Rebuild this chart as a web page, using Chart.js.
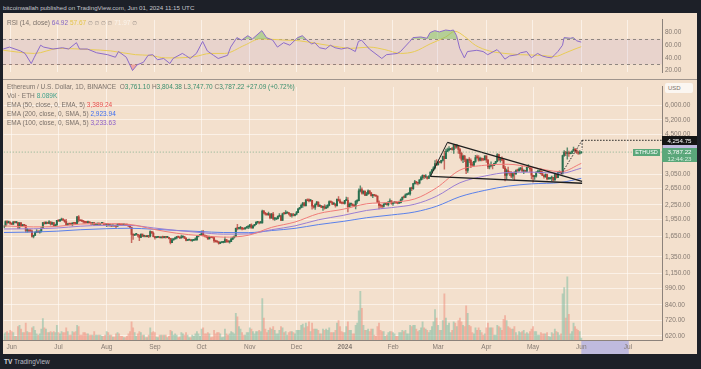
<!DOCTYPE html>
<html>
<head>
<meta charset="utf-8">
<script src="https://cdn.jsdelivr.net/npm/chart.js@4.4.1/dist/chart.umd.min.js"></script>
<style>
html,body{margin:0;padding:0;background:#1d2028;}
#wrap{position:relative;width:701px;height:369px;overflow:hidden;background:#1d2028;font-family:"Liberation Sans",Arial,sans-serif;}
.panel{position:absolute;left:3px;width:694px;background:#f3e0cd;}
#rsiBox{top:13px;height:66px;}
#mainBox{top:80px;height:274px;}
#sep{position:absolute;left:3px;top:79px;width:694px;height:1px;background:#a0958d;}
canvas{display:block;}
.t{position:absolute;white-space:nowrap;font-size:6.5px;line-height:8px;color:#7b716a;}
.g{color:#3b8f6e;}
.ic{color:#9a908a;font-family:"DejaVu Sans",sans-serif;font-size:5.5px;}
.lbl{position:absolute;white-space:nowrap;font-size:6.2px;line-height:8px;text-align:center;color:#fff;}
</style>
</head>
<body>
<div id="wrap">
  <div class="t" style="left:3px;top:4px;color:#c5c7cd;font-size:6.2px;">bitcoinwallah published on TradingView.com, Jun 01, 2024 11:15 UTC</div>
  <div class="panel" id="rsiBox"><canvas id="rsi" width="694" height="66"></canvas></div>
  <div id="sep"></div>
  <div class="panel" id="mainBox"><canvas id="main" width="694" height="274"></canvas></div>

  <div class="t" style="left:7px;top:19px;">RSI (14, close) <span style="color:#8466c4">64.92</span> <span style="color:#e3c44a">57.67</span> <span class="ic">&#8709; &#8709; &#8709; &#8709;</span> <span style="color:#fbf4ec">71.97</span> <span class="ic">&#8709;</span></div>

  <div class="t" style="left:7px;top:83px;">Ethereum / U.S. Dollar, 1D, BINANCE&nbsp; O<span class="g">3,761.10</span> H<span class="g">3,804.38</span> L<span class="g">3,747.70</span> C<span class="g">3,787.22</span> <span class="g">+27.09 (+0.72%)</span></div>
  <div class="t" style="left:7px;top:92px;">Vol · ETH <span style="color:#3fa28c">8.089K</span></div>
  <div class="t" style="left:7px;top:101px;">EMA (50, close, 0, EMA, 5) <span style="color:#e8504f">3,389.24</span></div>
  <div class="t" style="left:7px;top:110px;">EMA (200, close, 0, SMA, 5) <span style="color:#3d6ef0">2,923.94</span></div>
  <div class="t" style="left:7px;top:119px;">EMA (100, close, 0, SMA, 5) <span style="color:#8d5fc9">3,233.63</span></div>

  <div class="t" style="left:665px;top:83px;width:28px;height:10px;line-height:10px;background:#fbf6f1;border-radius:2px;font-size:6px;text-indent:3px;">USD</div>

  <div class="lbl" id="tgtLbl" style="left:662px;width:35px;height:9px;line-height:9px;background:#151515;">4,254.75</div>
  <div class="lbl" id="lastLbl" style="left:662px;width:35px;height:14px;line-height:7px;background:#5aa77a;">3,787.22<br><span style="color:#d6eede">12:44:23</span></div>
  <div class="lbl" id="symLbl" style="left:633px;width:27px;height:7px;line-height:7px;background:#5aa77a;font-size:5.5px;">ETHUSD</div>

  <div class="t" style="left:4px;top:358px;color:#b9bcc4;font-size:6.5px;"><b style="color:#d6d8de">TV</b> TradingView</div>
</div>

<script>
// ---------- DATA ----------
const firstDay = -5;            // May 27 2023, days counted from Jun 1 2023
const firstOpen = 1805;
const closes = [
1830,1910,1890,1900,1873,
1862,1907,1890,1891,1811,1888,1833,1848,1840,1752,1752,1742,1740,1650,1667,1718,1727,1720,1735,1790,1889,1872,1895,1875,1903,1860,1890,1828,1850,1934,
1924,1937,1956,1938,1910,1850,1869,1864,1860,1880,1878,1871,2002,1934,1925,1921,1910,1896,1890,1893,1891,1864,1890,1856,1858,1870,1859,1875,1882,1863,1857,
1865,1836,1836,1830,1836,1828,1825,1856,1853,1850,1849,1852,1845,1844,1827,1806,1684,1669,1682,1682,1668,1633,1687,1653,1654,1645,1657,1652,1729,1706,1645,
1629,1636,1640,1628,1633,1630,1644,1635,1636,1617,1552,1594,1608,1627,1642,1637,1626,1640,1645,1622,1585,1593,1593,1583,1589,1594,1595,1653,1665,1671,
1734,1664,1656,1648,1611,1646,1633,1632,1579,1567,1565,1540,1553,1556,1557,1600,1565,1564,1567,1606,1628,1650,1787,1784,1788,1801,1777,1775,1795,1811,1815,
1847,1797,1833,1857,1894,1899,1885,1886,2120,2077,2054,2045,2055,1980,2056,1960,1960,1964,2013,2022,1933,2063,2062,2081,2084,2063,2027,2048,2027,2052,
2087,2165,2193,2242,2293,2232,2358,2344,2341,2353,2224,2202,2260,2316,2220,2227,2196,2217,2177,2201,2240,2326,2313,2267,2272,2231,2378,2345,2298,2292,2281,
2352,2355,2209,2268,2268,2240,2221,2330,2345,2584,2618,2524,2576,2472,2510,2587,2528,2467,2490,2470,2453,2314,2240,2234,2218,2267,2268,2257,2317,2343,2283,
2304,2309,2296,2290,2300,2374,2425,2420,2487,2505,2507,2660,2641,2777,2823,2803,2786,2880,2945,3015,2968,2970,2922,2993,3112,3178,3244,3385,3340,
3432,3421,3488,3631,3553,3817,3869,3892,3918,3877,4067,3987,4005,3884,3739,3523,3644,3520,3160,3516,3491,3334,3328,3455,3590,3587,3499,3562,3510,3508,3647,
3505,3276,3311,3330,3318,3392,3454,3694,3504,3545,3501,3238,3010,3156,3103,3084,2985,3064,3056,3155,3147,3200,3219,3140,3155,3131,3257,3265,3210,3014,
2971,2988,3104,3117,3137,3063,3010,2973,3036,2910,2911,2929,2950,2882,3038,2945,3093,3123,3071,3663,3789,3737,3780,3727,3749,3827,3892,3840,3767,3747,3761.10,
3787.22
];
const highs = [
1840,1925,1930,1918,1905,
1880,1910,1911,1910,1895,1893,1889,1860,1860,1846,1780,1760,1765,1755,1672,1725,1765,1745,1745,1800,1893,1905,1908,1900,1930,1905,1900,1892,1865,1935,
1940,1952,1975,1966,1942,1950,1873,1875,1880,1893,1890,1895,2010,2028,1942,1942,1925,1910,1915,1920,1897,1893,1895,1892,1868,1885,1890,1880,1885,1885,1870,
1875,1875,1848,1845,1840,1840,1835,1870,1870,1858,1856,1856,1855,1856,1850,1832,1808,1695,1690,1690,1684,1676,1690,1688,1670,1656,1665,1660,1745,1731,1725,
1650,1642,1648,1648,1640,1655,1650,1650,1640,1640,1618,1620,1615,1640,1650,1645,1640,1670,1660,1650,1625,1600,1597,1596,1592,1598,1626,1665,1673,1680,
1745,1750,1670,1660,1660,1656,1650,1638,1635,1590,1575,1569,1565,1565,1565,1640,1602,1580,1575,1625,1640,1660,1790,1860,1805,1820,1806,1790,1805,1823,1825,
1860,1868,1835,1860,1910,1910,1900,1915,2136,2135,2090,2060,2095,2065,2070,2090,1985,1970,2020,2065,2030,2078,2090,2130,2090,2090,2070,2070,2070,2055,
2110,2170,2200,2270,2307,2310,2380,2390,2390,2376,2355,2240,2280,2330,2320,2260,2240,2225,2255,2245,2260,2340,2335,2318,2300,2275,2390,2445,2385,2315,2320,
2355,2430,2420,2295,2280,2275,2265,2350,2370,2640,2715,2665,2585,2580,2545,2610,2590,2545,2500,2495,2478,2460,2342,2255,2240,2280,2275,2300,2320,2390,2350,
2310,2325,2320,2310,2335,2390,2435,2460,2510,2515,2540,2665,2685,2785,2865,2835,2805,2885,2985,3030,3020,3035,2975,3000,3115,3195,3285,3485,3520,
3450,3450,3495,3640,3822,3900,3940,3995,3935,3965,4085,4093,4085,4010,3935,3785,3680,3665,3540,3535,3590,3545,3435,3460,3670,3675,3660,3610,3580,3565,3650,
3648,3510,3365,3445,3345,3400,3460,3730,3710,3560,3615,3550,3290,3200,3270,3120,3125,3090,3125,3180,3200,3240,3260,3290,3170,3165,3265,3350,3265,3240,
3020,3015,3125,3170,3170,3220,3130,3025,3060,3050,2950,2955,2990,2955,3040,3045,3120,3145,3135,3680,3840,3815,3950,3825,3800,3830,3975,3930,3885,3828,3845,
3804.38
];
const lows = [
1795,1826,1862,1880,1855,
1850,1855,1885,1882,1780,1780,1820,1826,1830,1720,1720,1725,1730,1636,1626,1660,1714,1715,1705,1720,1785,1860,1866,1870,1870,1845,1855,1818,1820,1830,
1912,1910,1935,1932,1895,1840,1845,1855,1855,1830,1865,1860,1865,1905,1922,1910,1880,1875,1885,1880,1885,1855,1858,1840,1850,1852,1855,1858,1870,1850,1850,
1815,1825,1826,1815,1825,1820,1800,1820,1845,1843,1842,1846,1840,1838,1820,1800,1550,1600,1660,1672,1640,1580,1630,1645,1640,1641,1640,1630,1640,1700,1640,
1605,1626,1630,1624,1620,1620,1625,1620,1630,1610,1532,1550,1590,1605,1610,1630,1615,1620,1630,1615,1577,1580,1588,1578,1570,1582,1590,1590,1641,1660,
1665,1655,1640,1628,1602,1610,1628,1620,1555,1560,1550,1530,1535,1550,1548,1555,1555,1560,1545,1565,1598,1620,1645,1760,1770,1770,1760,1768,1770,1790,1780,
1790,1785,1780,1825,1850,1875,1865,1878,1880,2060,2035,2030,2030,1960,1970,1940,1930,1945,1955,2000,1930,1930,2050,2060,2070,2040,2005,1995,2020,2020,
2040,2085,2150,2185,2195,2220,2225,2340,2320,2335,2160,2180,2150,2250,2210,2210,2190,2130,2160,2170,2185,2230,2300,2255,2260,2200,2225,2335,2285,2275,2270,
2265,2345,2100,2200,2230,2220,2215,2165,2285,2340,2560,2500,2500,2470,2470,2500,2505,2450,2415,2455,2450,2300,2165,2195,2170,2200,2255,2245,2230,2305,2260,
2240,2285,2290,2275,2285,2295,2350,2410,2415,2475,2490,2480,2590,2620,2760,2760,2740,2770,2880,2890,2915,2935,2900,2920,2990,3080,3160,3210,3310,
3335,3400,3395,3460,3200,3550,3800,3830,3880,3860,3735,3930,3940,3740,3570,3470,3410,3450,3060,3100,3410,3250,3300,3300,3420,3560,3460,3470,3475,3485,3505,
3420,3215,3210,3270,3210,3310,3380,3440,3490,3430,3480,3220,2850,2910,3050,3000,2940,2920,2870,3040,3130,3140,3170,3130,3060,3120,3130,3250,3115,2910,
2815,2890,2955,3100,3070,3050,3000,2930,2950,2880,2900,2900,2860,2860,2865,2930,2945,3090,3055,3050,3630,3660,3530,3625,3720,3740,3815,3775,3740,3705,3710,
3747.70
];
const volumes = [
25,30,35,28,40,
35,30,15,15,55,60,45,30,30,70,35,30,30,50,55,40,25,20,25,45,88,50,45,30,30,35,30,35,30,60,
30,25,35,30,30,50,35,20,20,35,30,35,60,55,20,20,30,30,25,25,20,20,20,35,20,20,20,20,15,15,20,
35,30,20,20,12,12,25,30,25,15,15,10,10,15,25,35,75,50,30,15,25,35,30,20,20,10,10,20,50,30,35,
30,12,10,20,20,20,20,20,10,15,40,35,20,25,20,10,12,30,25,20,30,20,10,10,20,15,25,35,25,15,
45,50,25,25,30,25,10,12,40,25,30,30,25,10,12,45,25,20,25,35,30,25,110,95,55,45,30,20,20,30,30,
50,45,35,25,35,35,40,35,170,90,45,30,40,50,45,55,40,25,25,40,55,50,30,35,20,30,35,35,30,25,
40,40,40,60,65,50,70,55,75,35,70,45,45,45,40,25,25,45,40,45,40,50,30,30,30,40,70,80,55,35,30,
30,55,75,40,40,25,25,60,70,120,200,130,60,40,40,45,35,45,45,20,15,55,70,40,35,35,15,20,30,35,35,
30,25,15,15,30,30,40,35,40,25,25,60,55,60,60,45,35,40,50,75,50,45,40,30,40,55,75,125,90,
60,40,40,80,190,90,60,70,30,40,75,70,55,80,90,75,60,55,140,110,60,55,30,25,50,40,50,40,30,20,25,
50,70,50,50,50,20,20,60,55,50,40,85,100,80,55,50,45,45,55,30,20,35,30,35,40,25,30,25,35,45,
55,35,35,20,20,30,25,25,25,30,15,12,30,25,45,35,30,20,25,190,215,90,260,105,25,35,70,55,45,40,35,
8.089
];

// moving averages (day, price)
const emaDays  = [-5,14,29,44,60,76,91,106,121,136,152,167,182,197,213,228,244,259,273,288,304,319,334,353,366];
const ema50    = [1830,1812,1820,1863,1871,1856,1770,1702,1663,1639,1668,1804,1901,2065,2157,2275,2310,2387,2664,3171,3326,3359,3260,3122,3389.24];
const ema100   = [1775,1779,1792,1824,1839,1839,1794,1749,1714,1687,1691,1763,1830,1943,2030,2131,2191,2266,2452,2799,2991,3097,3108,3074,3233.63];
const ema200   = [1715,1722,1737,1762,1779,1788,1771,1750,1731,1714,1712,1748,1786,1853,1913,1983,2038,2099,2221,2440,2597,2709,2769,2809,2923.94];

// RSI panel
const rsiDays = [-5,-1,6,9,13,15,19,21,27,33,37,42,44,49,55,62,67,69,74,78,81,85,88,91,94,98,102,104,110,112,115,119,123,126,130,133,139,141,145,148,152,155,161,164,168,171,175,179,184,187,190,193,195,198,202,205,208,212,216,218,221,223,225,230,238,241,248,250,256,258,263,267,269,272,275,279,282,284,286,288,291,293,299,303,306,312,314,317,320,325,327,331,334,338,341,344,347,349,351,354,355,359,361,363,366];
const rsiVals = [54,57,51,47,31,41,60,57,54,56,54,64,54,54,48,45,41,50,41,20,29,33,44,45,37,39,31,39,47,44,39,47,66,51,44,39,44,57,72,68,75,70,83,72,68,57,64,60,72,75,68,62,64,56,54,60,56,54,56,54,50,66,68,54,39,45,47,50,66,72,73,71,80,83,81,84,83,84,75,55,40,50,52,50,45,53,48,38,43,45,48,50,40,47,43,41,40,45,50,60,72,71,72,67,64.92];
const rsiMaDays = [-5,15,31,51,64,80,89,99,108,118,128,137,150,160,176,185,198,211,218,230,240,250,259,269,279,285,291,298,307,317,327,340,349,356,362,366];
const rsiMaVals = [52,47,55,53,51,45,44,40,40,42,47,47,60,70,68,67,62,57,55,57,53,47,50,62,73,82,74,60,51,47,45,44,42,48,54,57.67];
const rsiLevels = [70, 30];
const rsiTicks = [20, 40, 60, 80];

// axes
const monthTickDays   = [0,30,61,92,122,153,183,214,245,274,305,335,366,396];
const monthTickLabels = ['Jun','Jul','Aug','Sep','Oct','Nov','Dec','2024','Feb','Mar','Apr','May','Jun','Jul'];
const priceTicks = [620,720,840,990,1150,1350,1650,1950,2250,2650,3050,4500,5200,6000];

// drawings
const upperTrend = [[280,4169],[366.5,2839]];
const lowerTrend = [[269,2979],[366.5,2786]];
const poleLine   = [[269,2979],[280,4169]];
const targetPrice = 4254.75;
const projection = [[353,3037],[366.5,targetPrice]];
const projectionDrop = [[366.5,targetPrice],[366.5,3880]];
const highlightDays = [366, 396.5];

// ---------- RENDER ----------
const FONT = '"Liberation Sans", Arial, sans-serif';
const TXT = '#857a72';
const GRID = 'rgba(255,250,244,0.65)';
const AXIS = '#8c827b';
const HILITE = 'rgba(178,176,226,0.8)';
const xMin = -5.13, xMax = 417.85;

const days = closes.map((c, i) => firstDay + i);
const opens = closes.map((c, i) => i === 0 ? firstOpen : closes[i - 1]);
const isUp = closes.map((c, i) => c >= opens[i]);
const lastClose = closes[closes.length - 1];
const pts = (xs, ys) => xs.map((d, i) => ({x: d, y: ys[i]}));
const pairs = arr => arr.map(p => ({x: p[0], y: p[1]}));
const fmt2 = v => Number(v).toLocaleString('en-US', {minimumFractionDigits: 2, maximumFractionDigits: 2});

Chart.defaults.font.family = FONT;

const rsiBand = {
  id: 'rsiBand',
  beforeDatasetsDraw(chart) {
    const {ctx, chartArea: a, scales: {y}} = chart;
    const yU = y.getPixelForValue(rsiLevels[0]), yL = y.getPixelForValue(rsiLevels[1]);
    ctx.save();
    ctx.fillStyle = 'rgba(140,100,200,0.10)';
    ctx.fillRect(a.left, yU, a.right - a.left, yL - yU);
    ctx.strokeStyle = '#8f8680';
    ctx.lineWidth = 1;
    ctx.setLineDash([3, 3]);
    [yU, yL].forEach(p => { ctx.beginPath(); ctx.moveTo(a.left, Math.round(p) + 0.5); ctx.lineTo(a.right, Math.round(p) + 0.5); ctx.stroke(); });
    ctx.restore();
  }
};

new Chart(document.getElementById('rsi'), {
  type: 'line',
  data: {
    datasets: [
      {data: pts(rsiDays, rsiVals), borderColor: '#8c6bc9', borderWidth: 1, pointRadius: 0, tension: 0,
       fill: {target: {value: rsiLevels[0]}, above: 'rgba(120,190,95,0.5)', below: 'rgba(0,0,0,0)'}, order: 1},
      {data: pts(rsiDays, rsiVals), borderColor: 'rgba(0,0,0,0)', borderWidth: 0, pointRadius: 0, tension: 0,
       fill: {target: {value: rsiLevels[1]}, above: 'rgba(0,0,0,0)', below: 'rgba(235,80,90,0.4)'}, order: 3},
      {data: pts(rsiMaDays, rsiMaVals), borderColor: '#e8cb55', borderWidth: 1, pointRadius: 0, cubicInterpolationMode: 'monotone', order: 2}
    ]
  },
  options: {
    responsive: false, animation: false, events: [],
    layout: {padding: 0, autoPadding: false},
    plugins: {legend: {display: false}, tooltip: {enabled: false}},
    scales: {
      x: {type: 'linear', min: xMin, max: xMax, offset: false,
          afterBuildTicks: s => { s.ticks = monthTickDays.map(v => ({value: v})); },
          afterFit: s => { s.height = 0; },
          ticks: {display: false}, grid: {color: GRID, drawTicks: false}, border: {display: false}},
      y: {type: 'linear', position: 'right', min: 17.5, max: 100,
          afterBuildTicks: s => { s.ticks = rsiTicks.map(v => ({value: v})); },
          afterFit: s => { s.width = 35; },
          ticks: {padding: 3, color: TXT, font: {size: 6.5}, callback: v => Number(v).toFixed(2)},
          grid: {display: false, drawTicks: false}, border: {display: true, color: AXIS}}
    }
  },
  plugins: [rsiBand]
});

const axisHighlight = {
  id: 'axisHighlight',
  beforeDraw(chart) {
    const {ctx, scales: {x, y}} = chart;
    ctx.save();
    ctx.fillStyle = HILITE;
    const x0 = x.getPixelForValue(highlightDays[0]), x1 = x.getPixelForValue(highlightDays[1]);
    ctx.fillRect(x0, x.top + 1, x1 - x0, x.bottom - x.top - 1);
    const y0 = y.getPixelForValue(targetPrice), y1 = y.getPixelForValue(lastClose);
    ctx.fillRect(y.left + 1, y0, y.right - y.left - 1, y1 - y0);
    ctx.restore();
  }
};

const UP = '#286f4f', DN = '#b8423a';
const mainChart = new Chart(document.getElementById('main'), {
  type: 'line',
  data: {
    datasets: [
      {type: 'line', data: [{x: xMin, y: lastClose}, {x: xMax, y: lastClose}], borderColor: 'rgba(110,165,130,0.8)', borderWidth: 1, borderDash: [1, 2], pointRadius: 0, order: 1},
      {type: 'line', data: [{x: projection[1][0], y: targetPrice}, {x: xMax, y: targetPrice}], borderColor: '#222', borderWidth: 1, borderDash: [1.5, 1.5], pointRadius: 0, order: 1},
      {type: 'line', data: pairs(projection), borderColor: '#222', borderWidth: 1, borderDash: [1.5, 1.5], pointRadius: 0, order: 1},
      {type: 'line', data: pairs(projectionDrop), borderColor: '#222', borderWidth: 1, borderDash: [1.5, 1.5], pointRadius: 0, order: 1},
      {type: 'line', data: pairs(upperTrend), borderColor: '#1e1e1e', borderWidth: 1.3, pointRadius: 0, order: 2},
      {type: 'line', data: pairs(lowerTrend), borderColor: '#1e1e1e', borderWidth: 1.3, pointRadius: 0, order: 2},
      {type: 'line', data: pairs(poleLine), borderColor: '#1e1e1e', borderWidth: 1, pointRadius: 0, order: 2},
      {type: 'line', data: pts(emaDays, ema50), borderColor: '#ef7b78', borderWidth: 1, pointRadius: 0, cubicInterpolationMode: 'monotone', order: 3},
      {type: 'line', data: pts(emaDays, ema100), borderColor: '#9a7ed2', borderWidth: 1, pointRadius: 0, cubicInterpolationMode: 'monotone', order: 3},
      {type: 'line', data: pts(emaDays, ema200), borderColor: '#5a80ea', borderWidth: 1, pointRadius: 0, cubicInterpolationMode: 'monotone', order: 3},
      {type: 'bar', data: days.map((d, i) => ({x: d, y: [opens[i], closes[i]]})), backgroundColor: isUp.map(u => u ? UP : DN),
       barThickness: 1.3, minBarLength: 1, grouped: false, borderWidth: 0, yAxisID: 'y', order: 4},
      {type: 'bar', data: days.map((d, i) => ({x: d, y: [lows[i], highs[i]]})), backgroundColor: isUp.map(u => u ? 'rgba(40,111,79,0.75)' : 'rgba(184,66,58,0.75)'),
       barThickness: 0.8, grouped: false, borderWidth: 0, yAxisID: 'y', order: 5},
      {type: 'bar', data: days.map((d, i) => ({x: d, y: volumes[i]})), backgroundColor: isUp.map(u => u ? 'rgba(120,185,160,0.5)' : 'rgba(240,135,120,0.5)'),
       barThickness: 1.2, grouped: false, borderWidth: 0, yAxisID: 'yv', order: 10}
    ]
  },
  options: {
    responsive: false, animation: false, events: [],
    layout: {padding: 0, autoPadding: false},
    plugins: {legend: {display: false}, tooltip: {enabled: false}},
    scales: {
      x: {type: 'linear', position: 'bottom', min: xMin, max: xMax, offset: false,
          afterBuildTicks: s => { s.ticks = monthTickDays.map(v => ({value: v})); },
          afterFit: s => { s.height = 14; },
          ticks: {autoSkip: false, maxRotation: 0, padding: 3.5, color: TXT,
                  font: c => ({size: 6.5, weight: (c.tick && c.tick.label === '2024') ? 'bold' : 'normal'}),
                  callback: v => { const k = monthTickDays.indexOf(v); return k >= 0 ? monthTickLabels[k] : ''; }},
          grid: {color: GRID, drawTicks: false, offset: false}, border: {display: true, color: AXIS}},
      y: {type: 'logarithmic', position: 'right', min: 594.3, max: 7201,
          afterBuildTicks: s => { s.ticks = priceTicks.map(v => ({value: v})); },
          afterFit: s => { s.width = 35; },
          ticks: {autoSkip: false, padding: 3, color: TXT, font: {size: 6.5}, callback: v => fmt2(v)},
          grid: {color: GRID, drawTicks: false}, border: {display: true, color: AXIS}},
      yv: {type: 'linear', display: false, min: 0, max: 1040}
    }
  },
  plugins: [axisHighlight]
});

// place axis price labels using the chart's own scale
const yS = mainChart.scales.y;
const top0 = 80;
const pyT = top0 + yS.getPixelForValue(targetPrice);
const pyL = top0 + yS.getPixelForValue(lastClose);
document.getElementById('tgtLbl').style.top = (pyT - 4.5) + 'px';
document.getElementById('lastLbl').style.top = (pyL - 4) + 'px';
document.getElementById('symLbl').style.top = (pyL - 3.5) + 'px';
</script>
</body>
</html>
